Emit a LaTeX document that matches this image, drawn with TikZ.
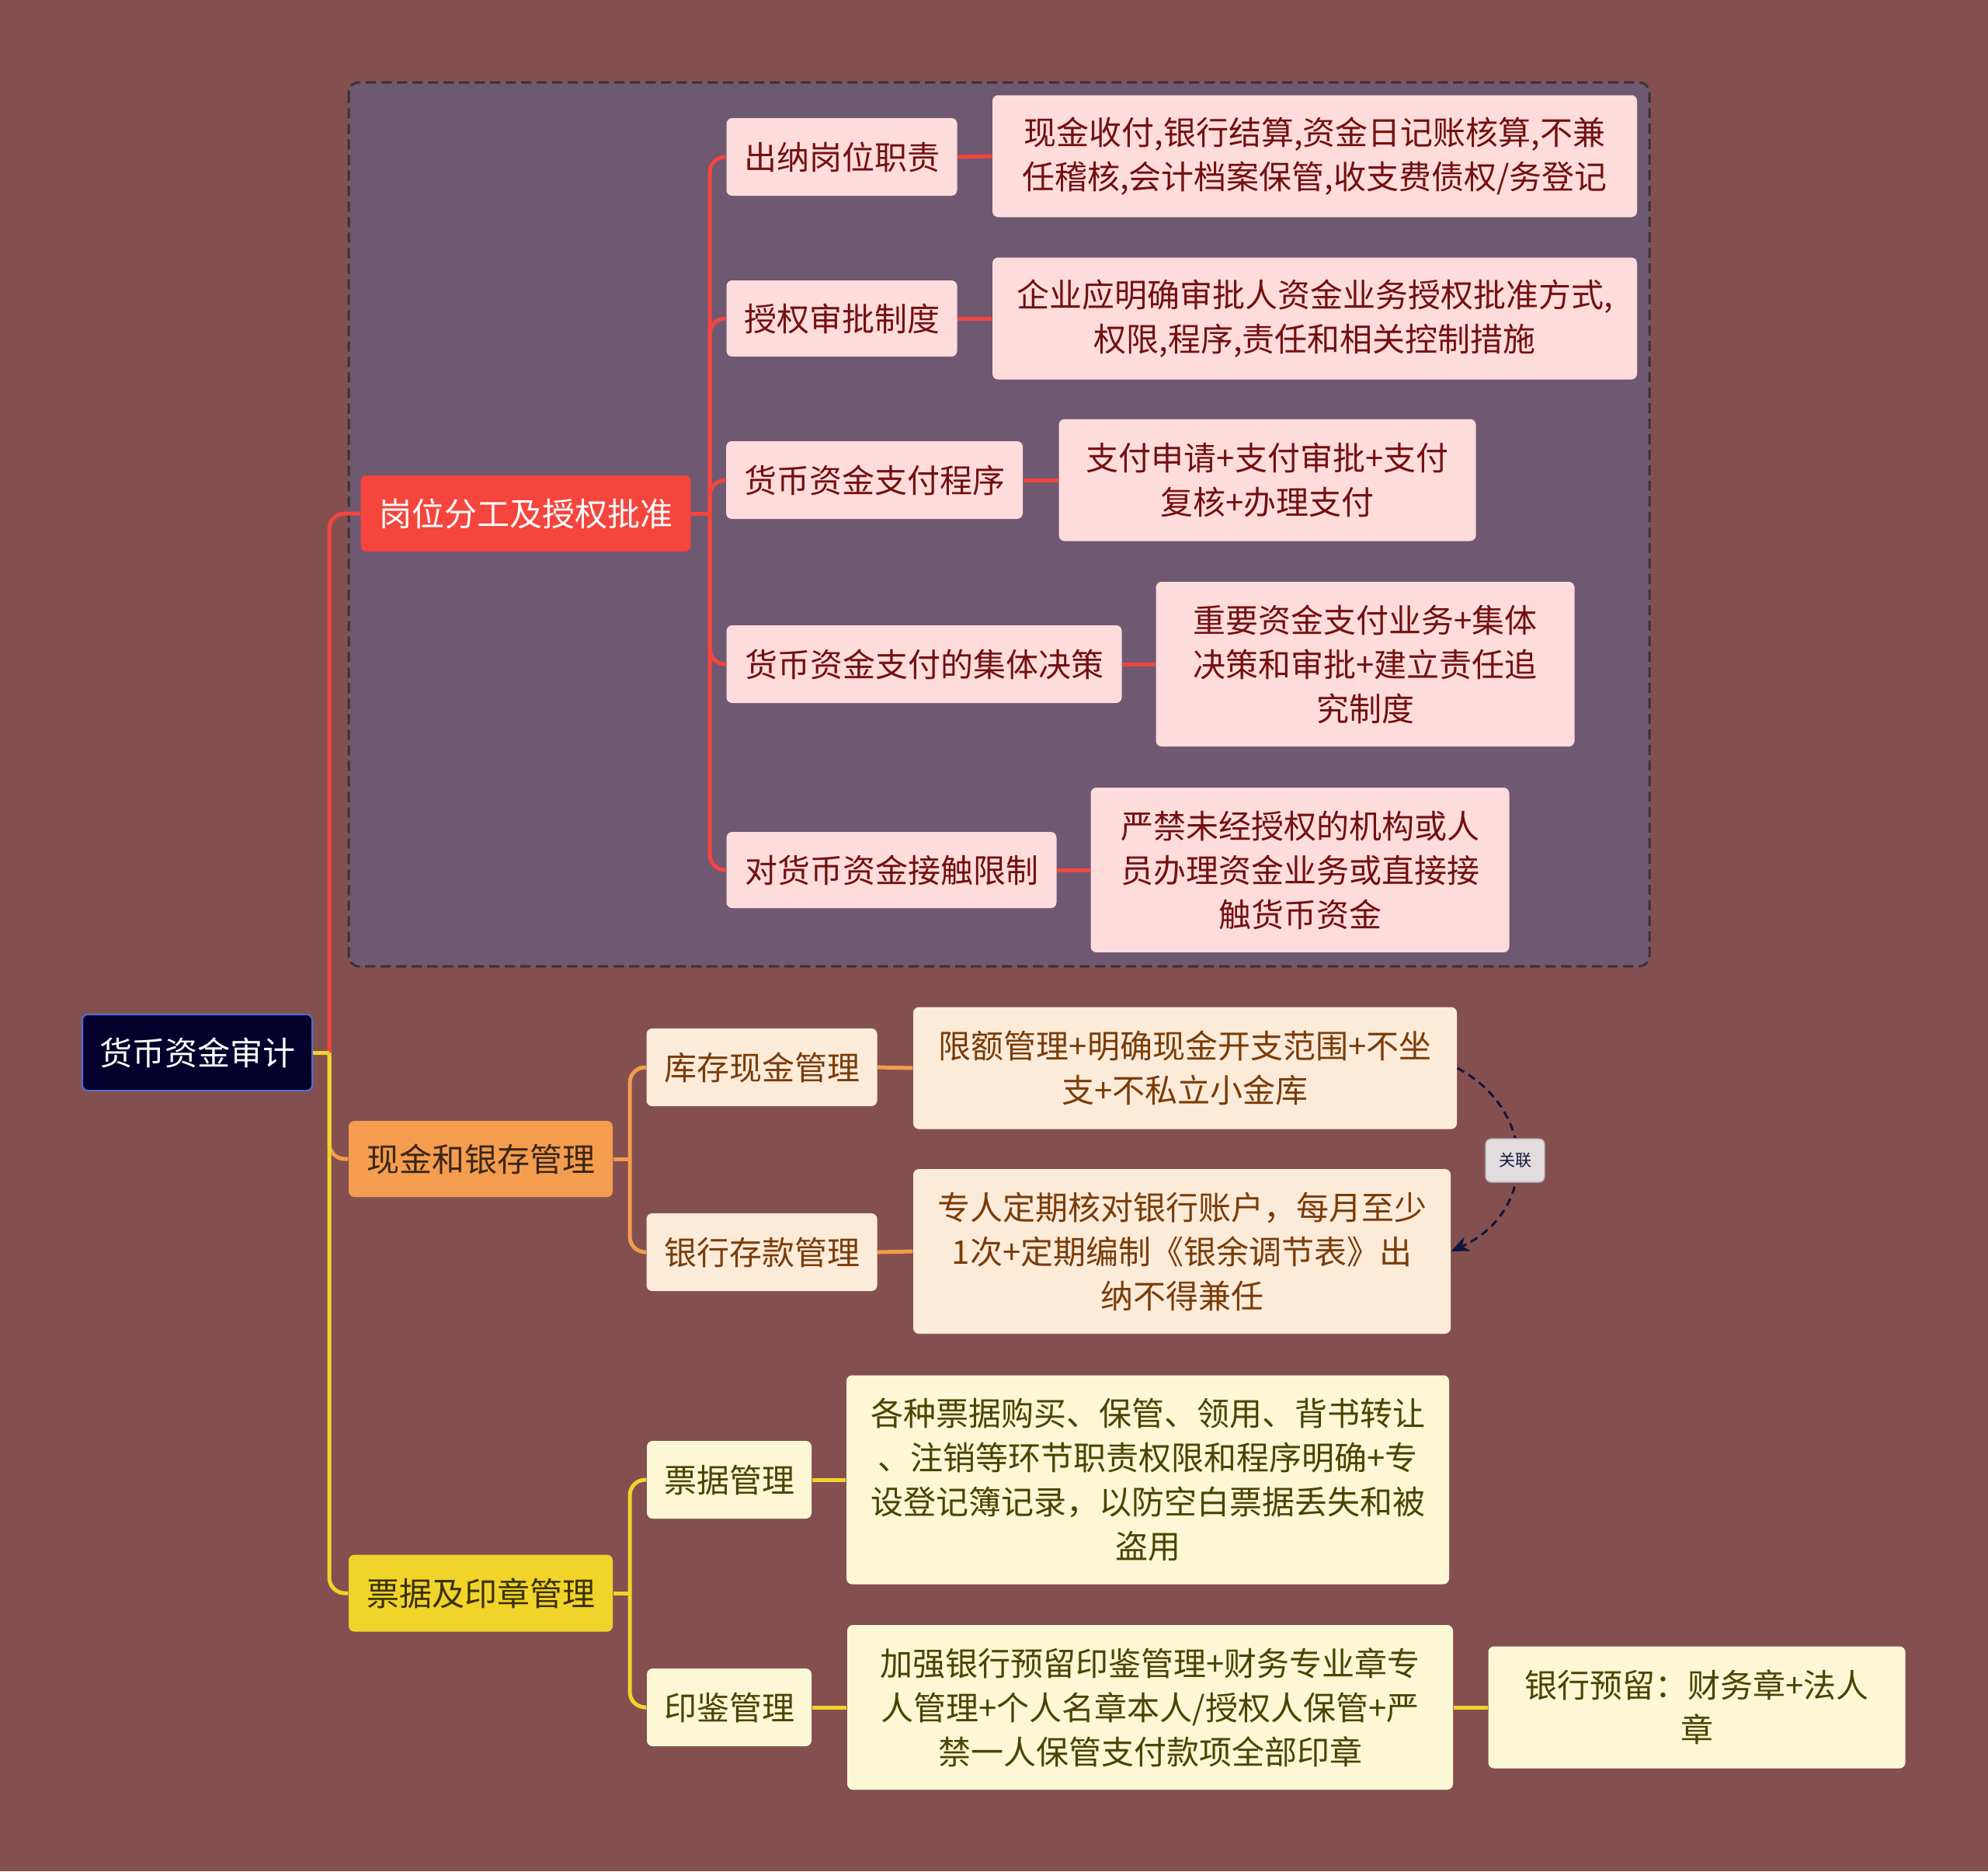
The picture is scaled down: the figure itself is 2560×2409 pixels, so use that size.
\documentclass[tikz,border=0pt]{standalone}
\usepackage{fontspec}
\setmainfont{Noto Sans CJK SC}
\usetikzlibrary{arrows.meta}
\definecolor{bgc}{HTML}{84504F}
\definecolor{boxfill}{HTML}{6F5872}
\definecolor{boxline}{HTML}{3A3236}
\definecolor{rootfill}{HTML}{03012B}
\definecolor{rootline}{HTML}{4C6FD6}
\definecolor{redc}{HTML}{F5453C}
\definecolor{redfill}{HTML}{FFDCDC}
\definecolor{redtext}{HTML}{731010}
\definecolor{orc}{HTML}{F49D4E}
\definecolor{orfill}{HTML}{FDEBDA}
\definecolor{ortext}{HTML}{7A3C08}
\definecolor{orltext}{HTML}{3B2718}
\definecolor{yec}{HTML}{F1D42A}
\definecolor{yefill}{HTML}{FCF7D4}
\definecolor{yetext}{HTML}{4B4302}
\definecolor{yeltext}{HTML}{3A3000}
\definecolor{relc}{HTML}{14163A}
\definecolor{tagfill}{HTML}{E2DCDE}
\begin{document}
\begin{tikzpicture}[x=0.3pt,y=-0.3pt,
  every node/.style={font=\fontsize{12.6pt}{17.1pt}\selectfont, inner sep=0pt, align=center, rounded corners=2.2pt},
  sz/.style 2 args={minimum width=#1*0.3pt, minimum height=#2*0.3pt},
  rootn/.style={fill=rootfill, draw=rootline, line width=0.6pt, text=white},
  redone/.style={fill=redc, text=white},
  redtwo/.style={fill=redfill, text=redtext},
  orone/.style={fill=orc, text=orltext},
  ortwo/.style={fill=orfill, text=ortext},
  yeone/.style={fill=yec, text=yeltext},
  yetwo/.style={fill=yefill, text=yetext},
  lk/.style={line width=1.5pt},
  rc/.style={lk, rounded corners=6pt}]
\useasboundingbox (0,0) rectangle (2560,2409);
\fill[bgc] (0,0) rectangle (2560,2409);
% group box
\draw[boxline, fill=boxfill, line width=0.9pt, dash pattern=on 4pt off 2pt, rounded corners=4pt] (449,106) rectangle (2124,1244);

% nodes
\node[rootn, sz={296}{98}] (root) at (254,1355) {货币资金审计};

\node[redone, sz={425}{98}] (gw) at (677,661) {岗位分工及授权批准};
\node[orone, sz={340}{98}] (xj) at (619,1492) {现金和银存管理};
\node[yeone, sz={340}{99}] (pj) at (619,2051) {票据及印章管理};

\node[redtwo, sz={297}{100}] (cn) at (1084,202) {出纳岗位职责};
\node[redtwo, sz={297}{98}] (sq) at (1084,410) {授权审批制度};
\node[redtwo, sz={382}{100}] (zf) at (1126,618) {货币资金支付程序};
\node[redtwo, sz={509}{100}] (jt) at (1190,855) {货币资金支付的集体决策};
\node[redtwo, sz={425}{98}] (jc) at (1148,1120) {对货币资金接触限制};

\node[redtwo, sz={830}{157}] (cnd) at (1693,201) {现金收付,银行结算,资金日记账核算,不兼\\任稽核,会计档案保管,收支费债权/务登记};
\node[redtwo, sz={830}{157}] (sqd) at (1693,410) {企业应明确审批人资金业务授权批准方式,\\权限,程序,责任和相关控制措施};
\node[redtwo, sz={537}{157}] (zfd) at (1632,618) {支付申请+支付审批+支付\\复核+办理支付};
\node[redtwo, sz={539}{212}] (jtd) at (1758,855) {重要资金支付业务+集体\\决策和审批+建立责任追\\究制度};
\node[redtwo, sz={539}{212}] (jcd) at (1674,1120) {严禁未经授权的机构或人\\员办理资金业务或直接接\\触货币资金};

\node[ortwo, sz={297}{100}] (kc) at (981,1374) {库存现金管理};
\node[ortwo, sz={297}{100}] (yh) at (981,1612) {银行存款管理};
\node[ortwo, sz={700}{157}] (kcd) at (1526,1375) {限额管理+明确现金开支范围+不坐\\支+不私立小金库};
\node[ortwo, sz={692}{212}] (yhd) at (1522,1611) {专人定期核对银行账户，每月至少\\1次+定期编制《银余调节表》出\\纳不得兼任};

\node[yetwo, sz={212}{100}] (pg) at (939,1905) {票据管理};
\node[yetwo, sz={212}{100}] (yj) at (939,2198) {印鉴管理};
\node[yetwo, sz={776}{269}] (pgd) at (1478,1905) {各种票据购买、保管、领用、背书转让\\、注销等环节职责权限和程序明确+专\\设登记簿记录，以防空白票据丢失和被\\盗用};
\node[yetwo, sz={780}{212}] (yjd) at (1481,2198) {加强银行预留印鉴管理+财务专业章专\\人管理+个人名章本人/授权人保管+严\\禁一人保管支付款项全部印章};
\node[yetwo, sz={537}{157}] (yjl) at (2185,2198) {银行预留：财务章+法人\\章};

% trunk coordinates
\coordinate (t0) at (424,1355);
\coordinate (t1) at (914,661);
\coordinate (t2) at (811,1492);
\coordinate (t3) at (811,2051);

% level 1 connectors
\draw[lk, redc] (root.east) -- (t0);
\draw[rc, redc] (t0) |- (gw.west);
\draw[rc, orc] (t0) |- (xj.west);
\draw[lk, yec] (root.east) -- (t0);
\draw[rc, yec] (t0) |- (pj.west);

% red group
\draw[lk, redc] (gw.east) -- (t1);
\foreach \c in {cn,sq,zf,jt,jc} \draw[rc, redc] (t1) |- (\c.west);
\draw[lk, redc] (cn.east) -- (cnd.west);
\draw[lk, redc] (sq.east) -- (sqd.west);
\draw[lk, redc] (zf.east) -- (zfd.west);
\draw[lk, redc] (jt.east) -- (jtd.west);
\draw[lk, redc] (jc.east) -- (jcd.west);

% orange group
\draw[lk, orc] (xj.east) -- (t2);
\foreach \c in {kc,yh} \draw[rc, orc] (t2) |- (\c.west);
\draw[lk, orc] (kc.east) -- (kcd.west);
\draw[lk, orc] (yh.east) -- (yhd.west);

% yellow group
\draw[lk, yec] (pj.east) -- (t3);
\foreach \c in {pg,yj} \draw[rc, yec] (t3) |- (\c.west);
\draw[lk, yec] (pg.east) -- (pgd.west);
\draw[lk, yec] (yj.east) -- (yjd.west);
\draw[lk, yec] (yjd.east) -- (yjl.west);

% relation
\draw[relc, line width=0.9pt, dash pattern=on 3pt off 2pt, -{Stealth[length=7pt,width=6pt]}]
  (kcd.east) .. controls (1980,1430) and (1980,1560) .. (yhd.east);
\node[fill=tagfill, draw=gray!60, line width=0.4pt, text=relc, font=\fontsize{6.3pt}{8pt}\selectfont, sz={76}{56}] (tag) at (1951,1494) {关联};
\end{tikzpicture}
\end{document}
